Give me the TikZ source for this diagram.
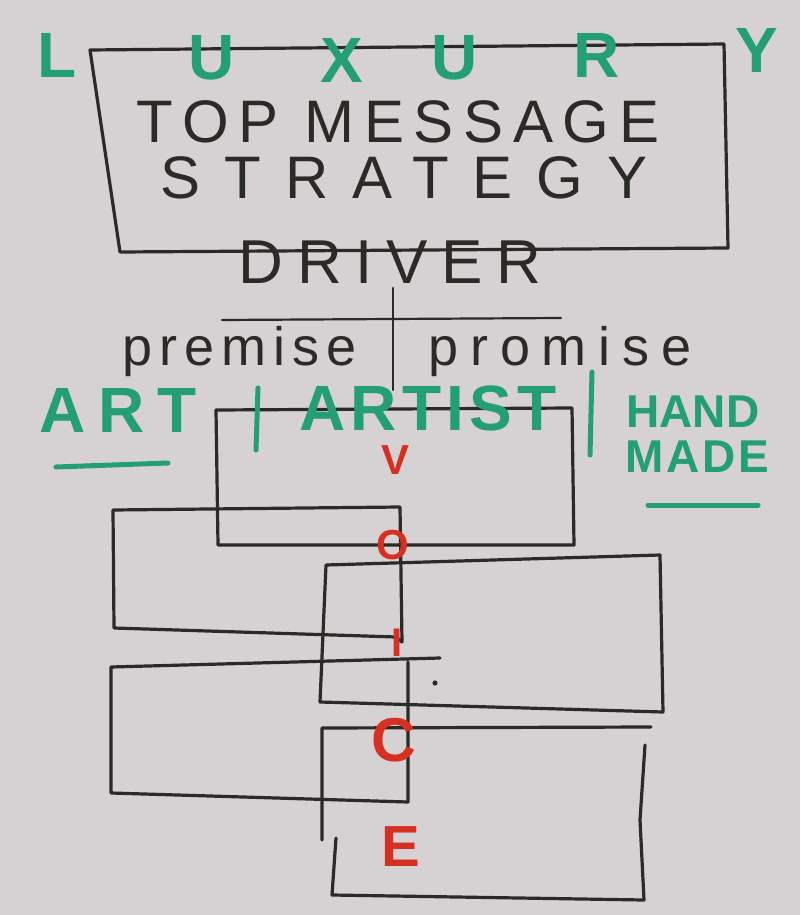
\documentclass[tikz,border=0pt]{standalone}
\usepackage{fontspec}
\setmainfont{Liberation Sans}
\usetikzlibrary{positioning}
\definecolor{board}{RGB}{214,210,212}
\definecolor{marker}{RGB}{42,42,38}
\definecolor{greenpen}{RGB}{36,158,116}
\definecolor{redpen}{RGB}{214,48,34}

\begin{document}
\begin{tikzpicture}[x=1pt, y=-1pt,
  pen/.style={draw=marker, line width=3.2pt, line join=round, line cap=round},
  thinpen/.style={draw=marker, line width=2.2pt, line cap=round},
  greenline/.style={draw=greenpen, line width=5pt, line cap=round},
  word/.style={text=marker, inner sep=0pt, anchor=center},
  greenword/.style={text=greenpen, inner sep=0pt, anchor=center,
    font=\fontsize{64}{64}\selectfont\bfseries},
  redword/.style={text=redpen, inner sep=0pt, anchor=center}
]
  \fill[board] (0,0) rectangle (800,915);
  \useasboundingbox (0,0) rectangle (800,915);

  % strategy box
  \draw[pen] (90,50) -- (724,44) -- (728,248) -- (120,252) -- cycle;

  \node[word, font=\fontsize{60}{60}\selectfont\addfontfeatures{LetterSpace=16}]
    (topmsg) at (398,122) {TOP MESSAGE};
  \node[word, font=\fontsize{60}{60}\selectfont\addfontfeatures{LetterSpace=40}]
    (strategy) at (404,178) {STRATEGY};
  \node[word, font=\fontsize{62}{62}\selectfont\addfontfeatures{LetterSpace=22}]
    (driver) at (390,262) {DRIVER};

  \foreach \ch/\cx/\cy [count=\i] in {L/57/55, U/212/58, X/342/60, U/455/58,
      R/597/55, Y/757/50}
    \node[greenword] (lux\i) at (\cx,\cy) {\ch};

  % premise / promise
  \coordinate (stemtop) at (393,288);
  \coordinate (stembot) at (393,390);
  \coordinate (barleft) at (222,320);
  \coordinate (barright) at (561,318);
  \draw[thinpen] (stemtop) -- (stembot);
  \draw[thinpen] (barleft) -- (barright);

  \node[word, font=\fontsize{54}{54}\selectfont\addfontfeatures{LetterSpace=13}]
    (premise) at (240,352) {premise};
  \node[word, font=\fontsize{54}{54}\selectfont\addfontfeatures{LetterSpace=22}]
    (promise) at (560,352) {promise};

  % overlapping boxes
  \draw[pen] (216,410) -- (572,408) -- (574,545) -- (218,545) -- cycle;
  \draw[pen] (113,510) -- (400,507) -- (402,642) -- (396,637) -- (114,628) -- cycle;
  \draw[pen] (326,565) -- (660,555) -- (663,712) -- (320,702) -- cycle;
  \draw[pen] (440,658) -- (111,667) -- (111,793) -- (408,802) -- (408,662);
  \draw[pen] (322,840) -- (322,728) -- (651,727);
  \draw[pen] (645,745) -- (640,820) -- (644,900) -- (332,895) -- (336,838);
  \fill[marker] (435,683) circle (2.6);

  % green row
  \node[greenword] (art) at (118,410) {\addfontfeatures{LetterSpace=20}ART};
  \node[greenword] (artist) at (428,408) {\addfontfeatures{LetterSpace=8}ARTIST};
  \node[greenword, font=\fontsize{46}{46}\selectfont\bfseries] (hand) at (693,412) {HAND};
  \node[greenword, font=\fontsize{46}{46}\selectfont\bfseries] (made) at (697,457)
    {\addfontfeatures{LetterSpace=6}MADE};
  \coordinate (sepA) at (258,388);
  \coordinate (sepB) at (592,372);
  \draw[greenline] (sepA) -- (256,450);
  \draw[greenline] (sepB) -- (590,455);
  \draw[greenline] (56,467) -- (168,463);
  \draw[greenline] (648,505) -- (758,505);

  % voice
  \node[redword, font=\fontsize{42}{42}\selectfont\bfseries] (v) at (396,460) {V};
  \node[redword, font=\fontsize{42}{42}\selectfont\bfseries] (o) at (393,545) {O};
  \node[redword, font=\fontsize{40}{40}\selectfont\bfseries] (i) at (397,643) {I};
  \node[redword, font=\fontsize{62}{62}\selectfont\bfseries] (c) at (394,740) {C};
  \node[redword, font=\fontsize{58}{58}\selectfont\bfseries] (e) at (401,847) {E};
\end{tikzpicture}
\end{document}
